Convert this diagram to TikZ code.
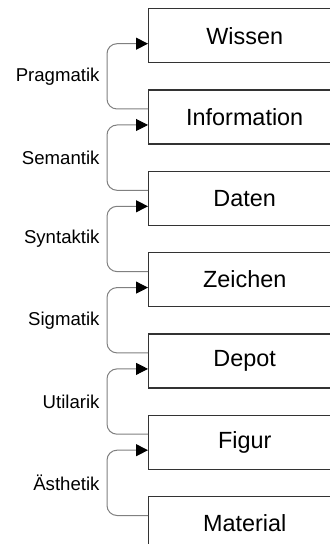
\documentclass[tikz,border=0pt]{standalone}
\usepackage{fontspec}
\setmainfont{Liberation Sans}
\usepackage{tikz}
\usetikzlibrary{arrows.meta,positioning}

\begin{document}
\begin{tikzpicture}[x=0.5pt,y=-0.5pt,
  box/.style={draw=black!80,line width=0.7pt,anchor=north west,minimum width=96pt,minimum height=27pt,inner sep=0pt,font=\fontsize{11.7}{14}\selectfont},
  conn/.style={draw=black!50,line width=0.5pt,rounded corners=5pt,-{Triangle[length=6pt,width=6pt,color=black]}},
  lbl/.style={pos=0.25,left=3.5pt,inner sep=0pt,font=\fontsize{9.3}{11}\selectfont}]
\clip (0,0) rectangle (330,544);
\foreach \name/\txt [count=\i from 0] in {wissen/Wissen,information/Information,daten/Daten,zeichen/Zeichen,depot/Depot,figur/Figur,material/Material}
\node[box] (\name) at (148,{8+81.3*\i}) {\txt};
\foreach \lo/\hi/\lb in {information/wissen/Pragmatik,daten/information/Semantik,zeichen/daten/Syntaktik,depot/zeichen/Sigmatik,figur/depot/Utilarik,material/figur/Ästhetik}
\draw[conn] ([yshift=4pt]\lo.west) -- ++(-41,0) |- node[lbl] {\lb} ([yshift=-4pt]\hi.west);
\end{tikzpicture}
\end{document}
